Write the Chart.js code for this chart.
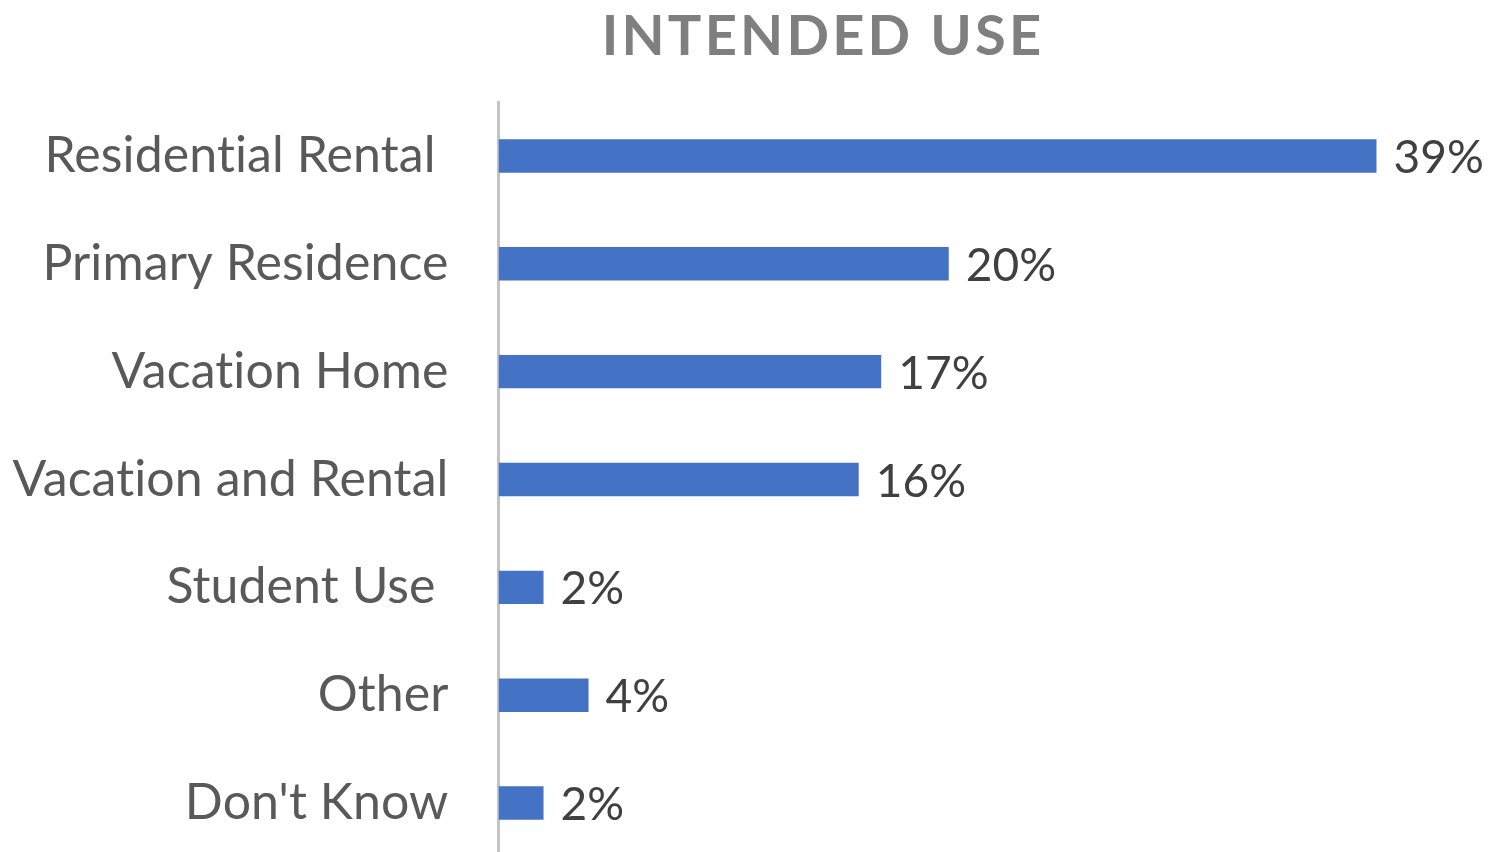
<!DOCTYPE html>
<html>
<head>
<meta charset="utf-8">
<script src="https://cdn.jsdelivr.net/npm/chart.js@4/dist/chart.umd.min.js"></script>
<style>
  html, body { margin: 0; padding: 0; background: #fff; overflow: hidden; }
  #wrap { position: relative; width: 1488px; height: 852px; overflow: hidden; }
  #title {
    position: absolute; left: 823px; top: -1px; transform: translateX(-50%);
    font: bold 56px Lato, sans-serif; letter-spacing: 3.2px; color: #7f7f7f;
    white-space: nowrap; line-height: 70px;
  }
  #myChart { position: absolute; left: 0; top: 0; }
</style>
</head>
<body>
<div id="wrap">
  <canvas id="myChart" width="1488" height="857"></canvas>
  <div id="title">INTENDED USE</div>
</div>
<script>
var uses = ['Residential Rental ', 'Primary Residence', 'Vacation Home', 'Vacation and Rental', 'Student Use ', 'Other', "Don't Know"];
var shares = [39, 20, 17, 16, 2, 4, 2];

// a hair of letter spacing keeps Lato from joining "ti"
var noLigatures = {
  id: 'noLigatures',
  beforeDraw: function(chart) {
    chart.ctx.letterSpacing = '0.1px';
  }
};

// writes "n%" just past the end of each bar
var valueLabels = {
  id: 'valueLabels',
  afterDatasetsDraw: function(chart) {
    var ctx = chart.ctx;
    var meta = chart.getDatasetMeta(0);
    ctx.save();
    ctx.font = '46px Lato, sans-serif';
    ctx.fillStyle = '#404040';
    ctx.textAlign = 'left';
    ctx.textBaseline = 'alphabetic';
    meta.data.forEach(function(bar, i) {
      ctx.fillText(chart.data.datasets[0].data[i] + '%', bar.x + 17, bar.y + 17);
    });
    ctx.restore();
  }
};

var ctx = document.getElementById('myChart');

var myChart = new Chart(ctx, {
  type: 'bar',
  data: {
    labels: uses,
    datasets: [{
      data: shares,
      backgroundColor: '#4472C4',
      barPercentage: 0.31,
      categoryPercentage: 1
    }]
  },
  options: {
    indexAxis: 'y',
    responsive: false,
    animation: false,
    layout: { padding: { top: 102, right: 89, bottom: 0, left: 0 } },
    plugins: {
      legend: { display: false },
      tooltip: { enabled: false },
      title: { display: false }
    },
    scales: {
      x: { display: false, min: 0, max: 40 },
      y: {
        z: 1,
        grid: { display: false, drawTicks: false },
        border: { display: true, color: '#c4c4c4', width: 3 },
        afterFit: function(scale) {
          // fixed gutter for the category names; no extra room above/below
          scale.width = 498.5;
          scale.paddingTop = 0;
          scale.paddingBottom = 0;
        },
        ticks: {
          padding: 50,
          color: '#595959',
          font: { family: 'Lato, sans-serif', size: 50 }
        }
      }
    }
  },
  plugins: [noLigatures, valueLabels]
});
</script>
</body>
</html>
